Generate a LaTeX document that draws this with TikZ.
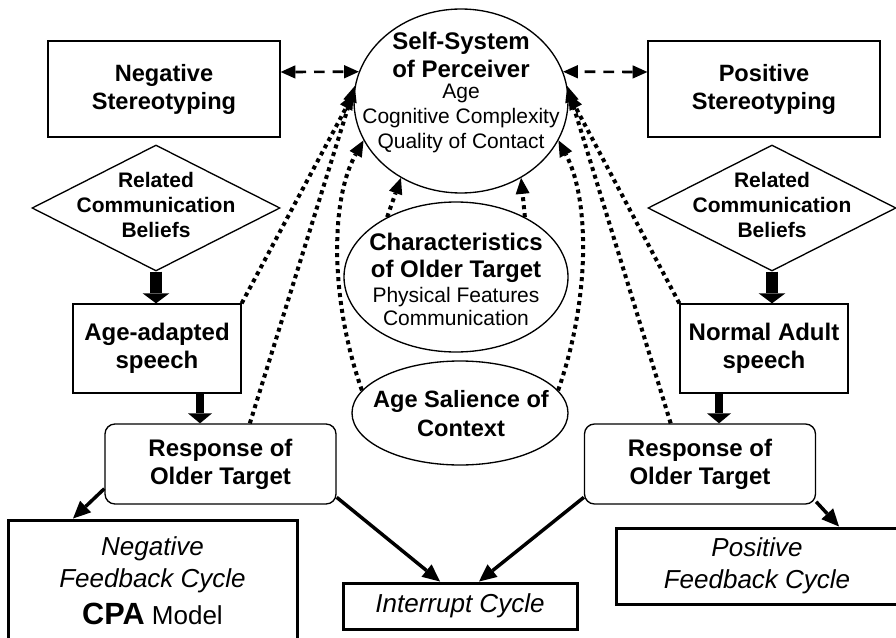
\documentclass[tikz,border=0pt]{standalone}
\usepackage{fontspec}
\setmainfont{Liberation Sans}
\usetikzlibrary{shapes.geometric,arrows.meta}
% font sizes used in the picture
\newcommand\hdsz{\fontsize{18}{21}\selectfont\bfseries}
\newcommand\bdsz{\fontsize{15.75}{18.4}\selectfont}
\begin{document}
\begin{tikzpicture}[x=0.75pt,y=-0.75pt,
  box/.style={draw, line width=1pt, rectangle, inner sep=0pt, align=center},
  thickbox/.style={draw, line width=2.25pt, rectangle, inner sep=0pt, align=center},
  respbox/.style={box, rounded corners=7.5pt, minimum width=173.25pt, minimum height=60pt,
    font=\fontsize{18}{21}\selectfont\bfseries},
  speechbox/.style={box, minimum width=126pt, minimum height=66.75pt,
    font=\fontsize{18}{21}\selectfont\bfseries},
  stereobox/.style={box, minimum width=174pt, minimum height=72pt,
    font=\fontsize{17.7}{21}\selectfont\bfseries},
  beliefs/.style={draw, line width=1pt, diamond, inner sep=0pt, minimum width=186pt, minimum height=94.5pt},
  oval/.style={draw, line width=1pt, ellipse, inner sep=0pt},
  lbl/.style={align=center, inner sep=0pt, font=\bdsz},
  dotarr/.style={line width=3pt, dash pattern=on 3pt off 3pt,
    -{Triangle[length=12pt,width=10.5pt,line width=0pt]}},
  dasharr/.style={line width=2pt, dash pattern=on 8pt off 6pt,
    {Triangle[length=11pt,width=10pt,line width=0pt]}-{Triangle[length=11pt,width=10pt,line width=0pt]}},
  solarr/.style={line width=2.6pt, -{Triangle[length=13pt,width=12pt,line width=0pt]}},
  blockarr/.style={line width=9.5pt, -{Triangle[length=7.5pt,width=20pt,line width=0pt]}},
  blockarrb/.style={line width=6.5pt, -{Triangle[length=7.5pt,width=18pt,line width=0pt]}}
]
\useasboundingbox (0,0) rectangle (896,638);
\clip (0,0) rectangle (896,638);

% central ellipses
\node[oval, minimum width=160.5pt, minimum height=138pt] (self) at (461,101) {};
\node[lbl] (selflbl) at (461,92.5) {\hdsz Self-System\\[2.6pt]\hdsz of Perceiver\\[-2.65pt]\bdsz Age\\[0.3pt]\bdsz Cognitive Complexity\\\bdsz Quality of Contact};

\node[oval, minimum width=168pt, minimum height=112.5pt] (char) at (456,277) {};
\node[lbl] (charlbl) at (456,279) {\hdsz Characteristics\\[1.85pt]\hdsz of Older Target\\[0.35pt]\bdsz Physical Features\\[-1.15pt]\bdsz Communication};

\node[oval, minimum width=162pt, minimum height=78pt] (sal) at (460,413) {};
\node[lbl, font=\fontsize{17.7}{21.75}\selectfont\bfseries] (sallbl) at (461,414) {Age Salience of\\Context};

% stereotyping boxes
\node[stereobox] (neg) at (164,89) {Negative\\Stereotyping};
\node[stereobox] (pos) at (764,89) {Positive\\Stereotyping};

% communication beliefs
\node[beliefs] (ldia) at (156,208) {};
\node[lbl, font=\fontsize{15.75}{18.75}\selectfont\bfseries] (ldialbl) at (156,205) {Related\\Communication\\Beliefs};
\node[beliefs] (rdia) at (772,208) {};
\node[lbl, font=\fontsize{15.75}{18.75}\selectfont\bfseries] (rdialbl) at (772,205) {Related\\Communication\\Beliefs};

% speech boxes
\node[speechbox] (aas) at (157,348.5) {Age-adapted\\speech};
\node[speechbox] (nas) at (764,348.5) {Normal Adult\\speech};

% responses
\node[respbox] (lresp) at (220.5,464) {Response of\\Older Target};
\node[respbox] (rresp) at (700,464) {Response of\\Older Target};

% outcome boxes
\node[thickbox, minimum width=216.75pt, minimum height=90.75pt,
  font=\fontsize{19.5}{24}\selectfont\itshape] (negfb) at (152.5,580.5)
  {Negative\\Feedback Cycle\\[3.75pt]{\upshape\fontsize{23}{24}\selectfont\bfseries CPA} {\upshape Model}};
\node[thickbox, minimum width=175.5pt, minimum height=34.5pt,
  font=\fontsize{19.5}{24}\selectfont\itshape] (intr) at (460,606) {Interrupt Cycle};
\node[thickbox, minimum width=211.5pt, minimum height=57pt,
  font=\fontsize{19.5}{24}\selectfont\itshape] (posfb) at (757,566) {Positive\\Feedback Cycle};

% stereotypes <-> self-system
\draw[dasharr] ([yshift=12.75pt]neg.east) -- (self.164);
\draw[dasharr] ([yshift=12.75pt]pos.west) -- (self.16);

% feedback into the self-system
\draw[dotarr] (aas.north east) -- (self.176);
\draw[dotarr] ([xshift=22pt]lresp.north) -- (self.172);
\draw[dotarr] (sal.167) .. controls (330,300) and (330,200) .. (self.202);
\draw[dotarr] (nas.north west) -- (self.4);
\draw[dotarr] ([xshift=-22pt]rresp.north) -- (self.8);
\draw[dotarr] (sal.13) .. controls (590,300) and (590,200) .. (self.338);
\draw[dotarr] (char.139) -- (self.232);
\draw[dotarr] (char.41) -- (self.308);

% main flow
\draw[blockarr] (ldia.south) -- (ldia.south |- aas.north);
\draw[blockarr] (rdia.south) -- (rdia.south |- nas.north);
\coordinate (aasout) at ([xshift=32.25pt]aas.south);
\coordinate (nasout) at ([xshift=-33.75pt]nas.south);
\draw[blockarrb] (aasout) -- (aasout |- lresp.north);
\draw[blockarrb] (nasout) -- (nasout |- rresp.north);

% outcomes
\draw[solarr] (lresp.192) -- ([xshift=-59.6pt]negfb.north);
\draw[solarr] (lresp.344) -- ([xshift=-15pt]intr.north);
\draw[solarr] (rresp.196) -- ([xshift=14.25pt]intr.north);
\draw[solarr] (rresp.342) -- ([xshift=61.5pt]posfb.north);
\end{tikzpicture}
\end{document}
